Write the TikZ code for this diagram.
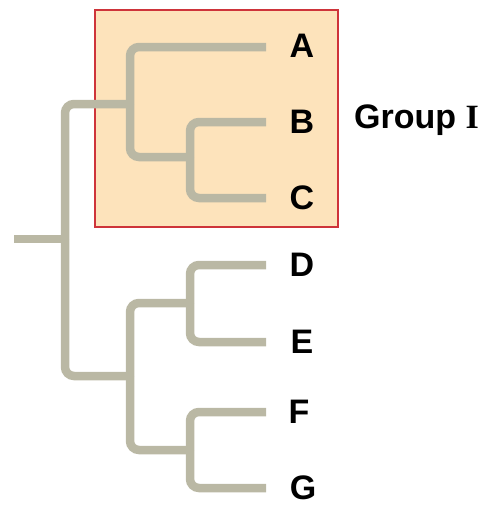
\documentclass[tikz,border=0pt]{standalone}
\usepackage{fontspec}
\setmainfont{Liberation Sans}
\newfontfamily\serifI{Liberation Serif}
\definecolor{branchc}{RGB}{186,184,164}
\definecolor{boxfill}{RGB}{253,227,187}
\definecolor{boxline}{RGB}{206,52,58}
\begin{document}
\begin{tikzpicture}[x=1pt,y=-1pt,
  branch/.style={draw=branchc,line width=8.5pt,rounded corners=9pt},
  leaf/.style={font=\fontsize{34}{34}\selectfont\bfseries,inner sep=0pt,anchor=center},
  grp/.style={fill=boxfill,draw=boxline,line width=2pt}]
\useasboundingbox (0,0) rectangle (495,506);
\node[grp,minimum width=243pt,minimum height=217pt,anchor=north west,inner sep=0pt] (box) at (94,9) {};
% internal nodes
\coordinate (S) at (14,239);
\coordinate (R) at (65,239);
\coordinate (N1) at (130,104);
\coordinate (N2) at (190,157);
\coordinate (N3) at (130,376);
\coordinate (N4) at (190,303);
\coordinate (N5) at (190,450);
% leaf ends
\coordinate (a) at (266,47);
\coordinate (b) at (266,122);
\coordinate (c) at (266,198);
\coordinate (d) at (266,265);
\coordinate (e) at (266,342);
\coordinate (f) at (266,412);
\coordinate (g) at (266,488);
\draw[branch] (S) -- (R);
\draw[branch] (R) |- (N1);
\draw[branch] (R) |- (N3);
\draw[branch] (N1) |- (a);
\draw[branch] (N1) |- (N2);
\draw[branch] (N2) |- (b);
\draw[branch] (N2) |- (c);
\draw[branch] (N3) |- (N4);
\draw[branch] (N3) |- (N5);
\draw[branch] (N4) |- (d);
\draw[branch] (N4) |- (e);
\draw[branch] (N5) |- (f);
\draw[branch] (N5) |- (g);
\node[leaf] (A) at (302,46) {A};
\node[leaf] (B) at (302,122) {B};
\node[leaf] (C) at (302,198) {C};
\node[leaf] (D) at (302,265) {D};
\node[leaf] (E) at (302,342) {E};
\node[leaf] (F) at (299,412) {F};
\node[leaf] (G) at (303,488) {G};
\node[font=\fontsize{34}{34}\selectfont\bfseries,inner sep=0pt,anchor=west] (grpI) at (354,120) {Group {\serifI I}};
\end{tikzpicture}
\end{document}
